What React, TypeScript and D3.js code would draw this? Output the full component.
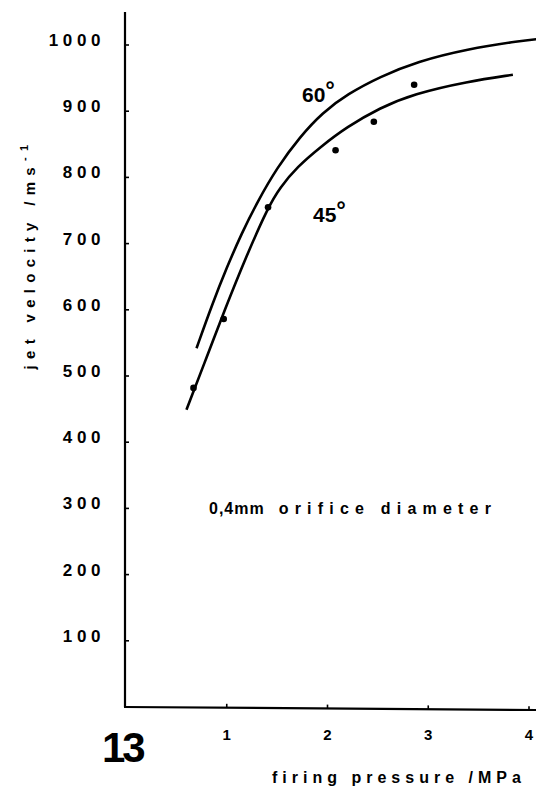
import React from 'react';
import * as d3 from 'd3';

// values (firing pressure in MPa, jet velocity in m/s)
const xTicks = [1, 2, 3, 4];
const yTicks = [100, 200, 300, 400, 500, 600, 700, 800, 900, 1000];

const curve60: [number, number][] = [
  [0.7, 542], [0.85, 606], [1.0, 664], [1.15, 716], [1.3, 762], [1.5, 815], [1.73, 862],
  [1.95, 898], [2.2, 926], [2.52, 952], [2.89, 975], [3.39, 994], [3.9, 1006], [4.2, 1011],
];
const curve45: [number, number][] = [
  [0.6, 449], [0.8, 528], [0.98, 600], [1.2, 683], [1.41, 755], [1.53, 785],
  [1.7, 816], [1.93, 846], [2.19, 876], [2.52, 905], [2.85, 926], [3.39, 945], [3.84, 955],
];
const points45: [number, number][] = [
  [0.67, 482], [0.97, 586], [1.41, 755], [2.08, 841], [2.46, 884], [2.86, 940],
];

const W = 536;
const H = 798;
const FONT = '"Liberation Sans", Arial, sans-serif';

const App: React.FC = () => {
  const x = d3.scaleLinear().domain([0, 4]).range([126, 529]);
  const y = d3.scaleLinear().domain([0, 1000]).range([707, 45]);

  const line = d3
    .line<[number, number]>()
    .x(d => x(d[0]))
    .y(d => y(d[1]))
    .curve(d3.curveBasis);

  const axisX = x(0) - 1;
  const axisY = y(0);

  return (
    <svg width={W} height={H} style={{ position: 'absolute', left: 0, top: 0, background: '#fff' }}>
      <rect width={W} height={H} fill="#fff" />

      {/* axes */}
      <line x1={axisX} y1={12} x2={axisX} y2={axisY} stroke="#000" strokeWidth={2.2} />
      <line x1={axisX - 1} y1={axisY} x2={W} y2={axisY + 3} stroke="#000" strokeWidth={2.2} />

      {yTicks.map(t => (
        <g key={t}>
          <line x1={axisX} x2={axisX + 4} y1={y(t)} y2={y(t)} stroke="#000" strokeWidth={1.6} />
          <text
            x={105}
            y={y(t) + 1}
            textAnchor="end"
            fontFamily={FONT}
            fontWeight="bold"
            fontSize={17}
            letterSpacing={4.6}
          >
            {t}
          </text>
        </g>
      ))}

      {xTicks.map(t => (
        <g key={t}>
          <line x1={x(t)} x2={x(t)} y1={axisY + t * 0.8} y2={axisY + t * 0.8 - 4} stroke="#000" strokeWidth={1.6} />
          <text
            x={x(t)}
            y={axisY + 33}
            textAnchor="middle"
            fontFamily={FONT}
            fontWeight="bold"
            fontSize={15}
          >
            {t}
          </text>
        </g>
      ))}

      {/* curves */}
      <path d={line(curve60) ?? ''} fill="none" stroke="#000" strokeWidth={2.6} />
      <path d={line(curve45) ?? ''} fill="none" stroke="#000" strokeWidth={2.6} />
      {points45.map((p, i) => (
        <circle key={i} cx={x(p[0])} cy={y(p[1])} r={3.3} fill="#000" />
      ))}

      {/* labels */}
      <text x={302} y={102} fontFamily={FONT} fontSize={21} fontWeight="bold">
        60
        <tspan dy={-4} fontSize={24} fontWeight="bold">°</tspan>
      </text>
      <text x={313} y={222} fontFamily={FONT} fontSize={21} fontWeight="bold">
        45
        <tspan dy={-4} fontSize={24} fontWeight="bold">°</tspan>
      </text>

      <text x={209} y={514} fontFamily={FONT} fontSize={16} fontWeight="bold" letterSpacing={6.2}>
        <tspan letterSpacing={1}>0,4mm</tspan>
        <tspan dx={14}>orifice diameter</tspan>
      </text>

      <text
        transform="translate(35,254) rotate(-90)"
        textAnchor="middle"
        fontFamily={FONT}
        fontSize={15}
        fontWeight="bold"
        letterSpacing={6.3}
      >
        jet velocity  /ms
        <tspan dy={-7} fontSize={11}>-1</tspan>
      </text>

      <text x={272} y={783} fontFamily={FONT} fontSize={16} fontWeight="bold" letterSpacing={5}>
        firing pressure /MPa
      </text>

      <text x={102} y={762} fontFamily={FONT} fontSize={42} fontWeight="bold" letterSpacing={-3}>
        13
      </text>
    </svg>
  );
};

export default App;
